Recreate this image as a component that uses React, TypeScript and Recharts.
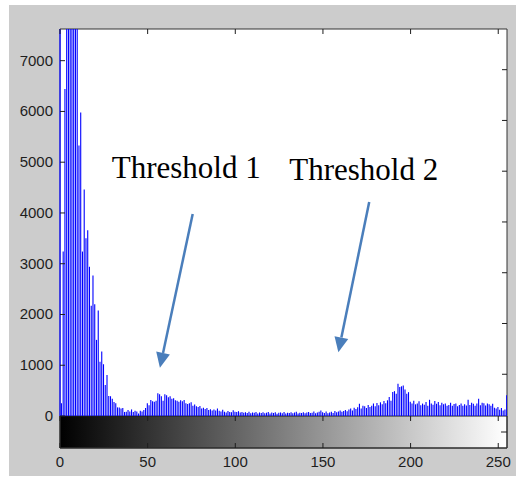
import React from "react";
import {
  BarChart,
  Bar,
  XAxis,
  YAxis,
  CartesianGrid,
  ReferenceArea,
  ReferenceLine,
  ReferenceDot,
} from "recharts";

// pixel counts per grey level 0..255 (tall ones clipped)
const counts = [
  9000, 250, 3240, 6440, 8500, 9800, 11000, 10200, 9400, 8900,
  8100, 5330, 5980, 3240, 4460, 3500, 3660, 2940, 2170, 2770,
  2200, 1500, 2080, 1070, 1270, 1020, 610, 810, 395, 390,
  340, 275, 250, 170, 170, 150, 160, 80, 85, 118,
  90, 130, 80, 105, 90, 52, 105, 90, 118, 158,
  250, 210, 315, 290, 280, 300, 450, 430, 390, 300,
  430, 410, 370, 390, 340, 350, 310, 300, 280, 310,
  290, 315, 250, 235, 250, 270, 200, 225, 190, 180,
  195, 150, 165, 140, 160, 120, 135, 110, 130, 110,
  150, 105, 90, 125, 85, 70, 100, 80, 75, 115,
  85, 80, 95, 70, 80, 65, 75, 60, 85, 55,
  70, 65, 80, 50, 70, 60, 75, 55, 65, 80,
  50, 70, 60, 75, 45, 65, 70, 55, 80, 50,
  65, 60, 75, 55, 70, 85, 50, 65, 60, 75,
  55, 70, 80, 60, 65, 90, 55, 70, 85, 110,
  75, 60, 90, 55, 70, 85, 60, 100, 75, 90,
  110, 85, 100, 120, 95, 130, 150, 110, 165, 140,
  175, 240, 150, 200, 190, 160, 215, 180, 200, 245,
  190, 255, 210, 270, 230, 295, 250, 310, 375, 300,
  475, 490, 440, 635, 570, 585, 600, 520, 440, 470,
  280, 245, 300, 230, 245, 290, 210, 245, 220, 275,
  200, 320, 245, 220, 295, 240, 275, 210, 260, 230,
  245, 200, 215, 260, 200, 235, 245, 190, 215, 245,
  200, 230, 205, 320, 215, 260, 240, 200, 245, 340,
  210, 260, 250, 205, 245, 230, 200, 240, 165, 150,
  180, 125, 160, 110, 130, 410,
];

const xTicks = [0, 50, 100, 150, 200, 250];
const yTicks = [0, 1000, 2000, 3000, 4000, 5000, 6000, 7000];

const annotations = [
  { label: "Threshold 1", x: 29.5, y: 4684, fromX: 75.7, fromY: 3980, toX: 57.0, toY: 952 },
  { label: "Threshold 2", x: 130.8, y: 4650, fromX: 176.4, fromY: 4216, toX: 158.8, toY: 1255 },
];

const data = counts.map((count, bin) => ({ bin, count }));

const Y_MIN = -630;
const Y_MAX = 7624;
const X_MAX = 255;

const tickFont = "'Liberation Sans Narrow', 'Arial Narrow', 'Liberation Sans', Arial, sans-serif";
const ink = "#1e1e1e";

function XTick(props: any) {
  const { x, payload } = props;
  return (
    <g>
      <line x1={x} x2={x} y1={29} y2={34} stroke={ink} />
      <line x1={x} x2={x} y1={416} y2={421} stroke={ink} />
      <line x1={x} x2={x} y1={443} y2={448} stroke={ink} />
      <text x={x} y={467} textAnchor="middle" fontSize={15} fontFamily={tickFont} fill={ink}>
        {payload.value}
      </text>
    </g>
  );
}

function YTick(props: any) {
  const { y, payload } = props;
  return (
    <g>
      <line x1={60} x2={65} y1={y} y2={y} stroke={ink} />
      {payload.value > 0 && <line x1={502} x2={507} y1={y + 9} y2={y + 9} stroke={ink} />}
      <text x={53} y={y + 5} textAnchor="end" fontSize={15} fontFamily={tickFont} fill={ink}>
        {payload.value}
      </text>
    </g>
  );
}

function Arrow(props: any) {
  const { x1, y1, x2, y2 } = props;
  const dx = x2 - x1;
  const dy = y2 - y1;
  const len = Math.sqrt(dx * dx + dy * dy);
  const ux = dx / len;
  const uy = dy / len;
  const head = 15;
  const half = 7;
  const bx = x2 - ux * head;
  const by = y2 - uy * head;
  return (
    <g>
      <line x1={x1} y1={y1} x2={bx} y2={by} stroke="#4a7ebb" strokeWidth={2.5} />
      <polygon
        points={`${x2},${y2} ${bx - uy * half},${by + ux * half} ${bx + uy * half},${by - ux * half}`}
        fill="#4a7ebb"
      />
    </g>
  );
}

export default function App() {
  return (
    <div style={{ position: "absolute", left: 0, top: 0, width: 523, height: 481, background: "#fff" }}>
      <div
        style={{ position: "absolute", left: 9, top: 5, width: 507, height: 471, background: "#cccccc" }}
      />
      <div style={{ position: "absolute", left: 0, top: 0 }}>
        <BarChart
          width={523}
          height={481}
          data={data}
          margin={{ top: 29, right: 16, bottom: 13, left: 0 }}
          barGap={0}
        >
          <defs>
            <linearGradient id="greyRamp" x1="0" y1="0" x2="1" y2="0">
              <stop offset="0%" stopColor="#000" />
              <stop offset="100%" stopColor="#fff" />
            </linearGradient>
          </defs>
          <CartesianGrid fill="#fff" horizontal={false} vertical={false} />
          <XAxis
            dataKey="bin"
            type="number"
            domain={[0, X_MAX]}
            ticks={xTicks}
            height={20}
            axisLine={false}
            tickLine={false}
            tick={<XTick />}
            allowDataOverflow
          />
          <YAxis
            type="number"
            domain={[Y_MIN, Y_MAX]}
            ticks={yTicks}
            width={60}
            axisLine={false}
            tickLine={false}
            tick={<YTick />}
            allowDataOverflow
            interval={0}
          />
          <Bar dataKey="count" fill="#0000ff" barSize={1.1} isAnimationActive={false} />
          <ReferenceArea
            x1={0}
            x2={X_MAX}
            y1={Y_MIN}
            y2={0}
            fill="url(#greyRamp)"
            fillOpacity={1}
            stroke={ink}
          />
          <ReferenceArea
            x1={0}
            x2={X_MAX}
            y1={Y_MIN}
            y2={Y_MAX}
            fill="none"
            stroke="#333"
          />
          <ReferenceLine
            segment={[
              { x: 0, y: 0 },
              { x: 0, y: Y_MAX },
            ]}
            stroke="#2a2aff"
            strokeWidth={1.5}
          />
          <ReferenceLine
            segment={[
              { x: 251.6, y: -315 },
              { x: X_MAX, y: -315 },
            ]}
            stroke={ink}
          />
          {annotations.map((a) => (
            <ReferenceLine
              key={a.label + "-arrow"}
              segment={[
                { x: a.fromX, y: a.fromY },
                { x: a.toX, y: a.toY },
              ]}
              shape={<Arrow />}
            />
          ))}
          {annotations.map((a) => (
            <ReferenceDot
              key={a.label}
              x={a.x}
              y={a.y}
              r={0}
              shape={(p: any) => (
                <text
                  x={p.cx}
                  y={p.cy}
                  fontSize={31}
                  fontFamily="'Liberation Serif', 'Times New Roman', serif"
                  fill="#000"
                >
                  {a.label}
                </text>
              )}
            />
          ))}
        </BarChart>
      </div>
    </div>
  );
}
